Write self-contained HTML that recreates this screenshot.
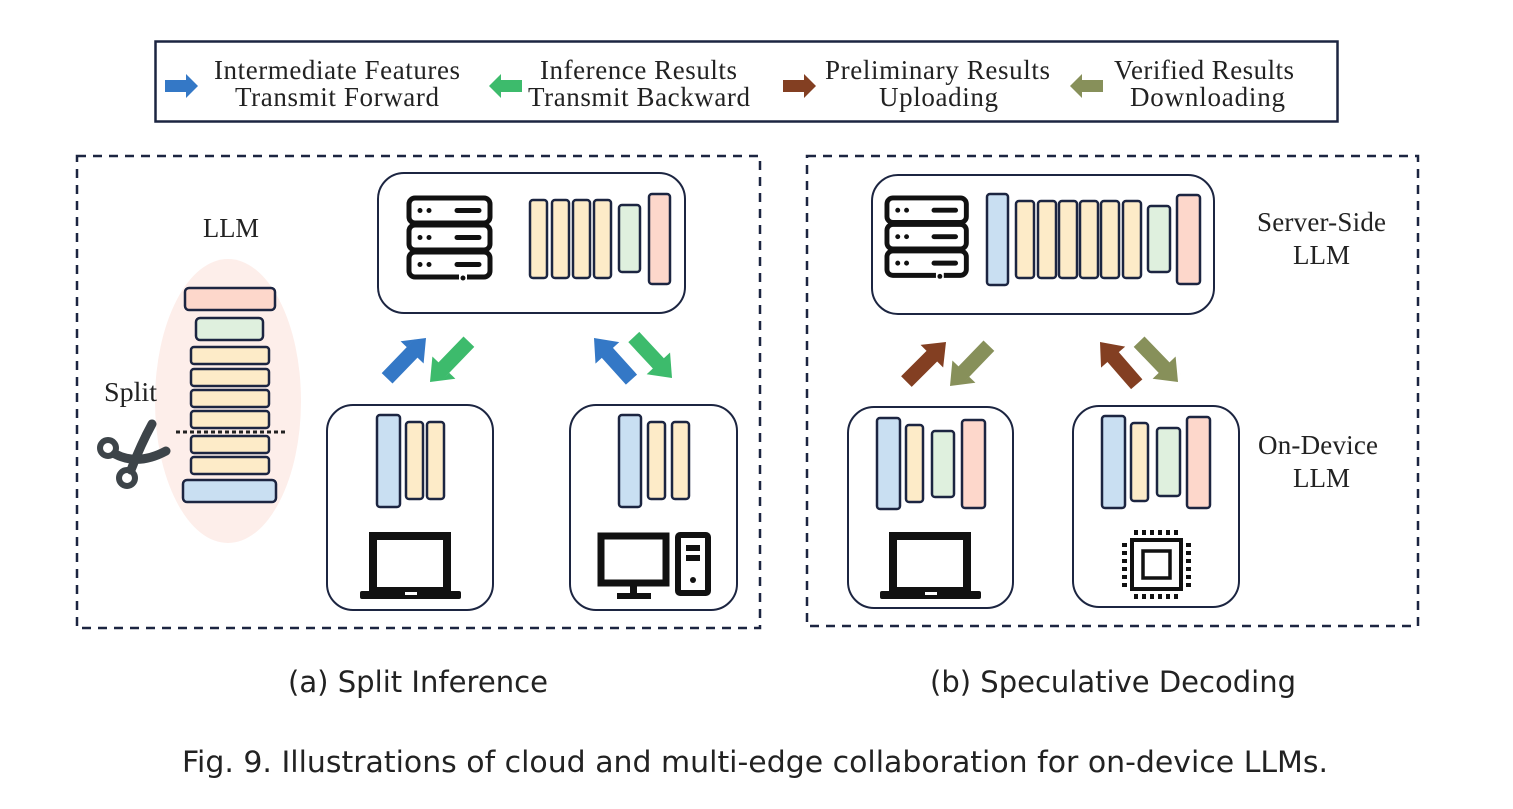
<!DOCTYPE html>
<html><head><meta charset="utf-8"><style>html,body{margin:0;padding:0;background:#fff}svg{display:block}</style></head>
<body>
<svg width="1513" height="809" viewBox="0 0 1513 809" xmlns="http://www.w3.org/2000/svg">
<defs>
<g id="srv">
  <rect x="2" y="2" width="81" height="25" rx="6" fill="#fff" stroke="#111" stroke-width="5"/>
  <rect x="2" y="29" width="81" height="25" rx="6" fill="#fff" stroke="#111" stroke-width="5"/>
  <rect x="2" y="56" width="81" height="25" rx="6" fill="#fff" stroke="#111" stroke-width="5"/>
  <rect x="52" y="78" width="8" height="8" fill="#fff"/>
  <circle cx="56" cy="82" r="2.5" fill="#111"/>
  <g fill="#111"><circle cx="13" cy="14.5" r="2.5"/><circle cx="22" cy="14.5" r="2.5"/><circle cx="13" cy="41.5" r="2.5"/><circle cx="22" cy="41.5" r="2.5"/><circle cx="13" cy="68.5" r="2.5"/><circle cx="22" cy="68.5" r="2.5"/></g>
  <g stroke="#111" stroke-width="5" stroke-linecap="round"><line x1="50" y1="14.5" x2="72" y2="14.5"/><line x1="50" y1="41.5" x2="72" y2="41.5"/><line x1="50" y1="68.5" x2="72" y2="68.5"/></g>
</g>
<g id="lap">
  <rect x="13" y="4" width="74" height="55" fill="#fff" stroke="#111" stroke-width="8"/>
  <rect x="0" y="59" width="101" height="8" rx="2" fill="#111"/>
  <rect x="45" y="60" width="12" height="3" fill="#fff"/>
</g>
<polygon id="arr" points="0,-7.5 -20,-7.5 -20,-16 0,0 -20,16 -20,7.5 -56,7.5 -56,-7.5"/>
<polygon id="larr" points="0,-6 -12,-6 -12,-12 0,0 -12,12 -12,6 -33,6 -33,-6"/>
</defs>

<!-- Legend -->
<rect x="155.5" y="41.5" width="1182" height="80" fill="#fff" stroke="#1c2541" stroke-width="2.5"/>
<g font-family="Liberation Serif, serif" font-size="27" fill="#222" lengthAdjust="spacingAndGlyphs">
  <text x="214" y="79" textLength="246">Intermediate Features</text><text x="235" y="106" textLength="204">Transmit Forward</text>
  <text x="540" y="79" textLength="197">Inference Results</text><text x="528" y="106" textLength="222">Transmit Backward</text>
  <text x="825" y="79" textLength="225">Preliminary Results</text><text x="879" y="106" textLength="119">Uploading</text>
  <text x="1114" y="79" textLength="180">Verified Results</text><text x="1130" y="106" textLength="155">Downloading</text>
</g>
<use href="#larr" transform="translate(198,86)" fill="#3478c6"/>
<use href="#larr" transform="translate(489,86) rotate(180)" fill="#3dbb6c"/>
<use href="#larr" transform="translate(816,86)" fill="#833f22"/>
<use href="#larr" transform="translate(1070,86) rotate(180)" fill="#87905a"/>

<!-- Panels -->
<rect x="77" y="156" width="683" height="472" fill="none" stroke="#1c2541" stroke-width="2.5" stroke-dasharray="9,7"/>
<rect x="807" y="156" width="611" height="470" fill="none" stroke="#1c2541" stroke-width="2.5" stroke-dasharray="9,7"/>

<!-- Left LLM stack -->
<ellipse cx="228" cy="401" rx="73" ry="142" fill="#fdeeea"/>
<text x="203" y="237" font-family="Liberation Serif, serif" font-size="27" fill="#222" textLength="56" lengthAdjust="spacingAndGlyphs">LLM</text>
<text x="104" y="401" font-family="Liberation Serif, serif" font-size="27" fill="#222" textLength="53" lengthAdjust="spacingAndGlyphs">Split</text>
<g stroke="#1c2541" stroke-width="2.5">
  <rect x="185" y="288" width="90" height="22" rx="4" fill="#fdd7cb"/>
  <rect x="196" y="318" width="67" height="22" rx="4" fill="#dff0de"/>
  <rect x="191" y="347" width="78" height="17" rx="3" fill="#fdebc8"/>
  <rect x="191" y="369" width="78" height="17" rx="3" fill="#fdebc8"/>
  <rect x="191" y="390" width="78" height="17" rx="3" fill="#fdebc8"/>
  <rect x="191" y="411" width="78" height="17" rx="3" fill="#fdebc8"/>
  <rect x="191" y="436" width="78" height="17" rx="3" fill="#fdebc8"/>
  <rect x="191" y="457" width="78" height="17" rx="3" fill="#fdebc8"/>
  <rect x="183" y="480" width="93" height="22" rx="4" fill="#c9dff2"/>
</g>
<line x1="176" y1="432" x2="288" y2="432" stroke="#222" stroke-width="3" stroke-dasharray="4,3"/>
<!-- scissors -->
<g stroke="#3d4449" fill="none" stroke-linecap="round">
  <circle cx="108" cy="448" r="8" stroke-width="6"/>
  <circle cx="127" cy="478" r="8" stroke-width="6"/>
  <path d="M115 454 Q138 466 166 451" stroke-width="9"/>
  <path d="M131 470 Q141 444 152 424" stroke-width="9"/>
</g>

<!-- Left server box -->
<rect x="378" y="173" width="307" height="140" rx="26" fill="#fff" stroke="#1c2541" stroke-width="2"/>
<use href="#srv" transform="translate(407,196)"/>
<g stroke="#1c2541" stroke-width="2.5">
  <rect x="530" y="200" width="17" height="78" rx="3" fill="#fdebc8"/>
  <rect x="552" y="200" width="17" height="78" rx="3" fill="#fdebc8"/>
  <rect x="573" y="200" width="17" height="78" rx="3" fill="#fdebc8"/>
  <rect x="594" y="200" width="17" height="78" rx="3" fill="#fdebc8"/>
  <rect x="619" y="205" width="21" height="67" rx="3" fill="#dff0de"/>
  <rect x="649" y="194" width="21" height="90" rx="3" fill="#fdd7cb"/>
</g>
<use href="#arr" transform="translate(426,338) rotate(-46)" fill="#3478c6"/>
<use href="#arr" transform="translate(430,382) rotate(134)" fill="#3dbb6c"/>
<use href="#arr" transform="translate(594,338) rotate(-132)" fill="#3478c6"/>
<use href="#arr" transform="translate(672,378) rotate(47)" fill="#3dbb6c"/>

<!-- Laptop device box -->
<rect x="327" y="405" width="166" height="205" rx="26" fill="#fff" stroke="#1c2541" stroke-width="2"/>
<g stroke="#1c2541" stroke-width="2.5">
  <rect x="377" y="415" width="23" height="92" rx="3" fill="#c9dff2"/>
  <rect x="406" y="422" width="17" height="77" rx="3" fill="#fdebc8"/>
  <rect x="427" y="422" width="17" height="77" rx="3" fill="#fdebc8"/>
</g>
<use href="#lap" transform="translate(360,532)"/>

<!-- Desktop device box -->
<rect x="570" y="405" width="167" height="205" rx="26" fill="#fff" stroke="#1c2541" stroke-width="2"/>
<g stroke="#1c2541" stroke-width="2.5">
  <rect x="619" y="415" width="22" height="92" rx="3" fill="#c9dff2"/>
  <rect x="648" y="422" width="17" height="77" rx="3" fill="#fdebc8"/>
  <rect x="672" y="422" width="17" height="77" rx="3" fill="#fdebc8"/>
</g>
<rect x="601" y="536" width="65" height="47" fill="#fff" stroke="#111" stroke-width="7"/>
<rect x="630" y="586" width="7" height="9" fill="#111"/>
<rect x="617" y="593" width="34" height="6" fill="#111"/>
<rect x="678" y="535" width="30" height="58" rx="2" fill="#fff" stroke="#111" stroke-width="6"/>
<rect x="686" y="545" width="14" height="6" fill="#111"/>
<rect x="686" y="555" width="14" height="6" fill="#111"/>
<circle cx="693" cy="580" r="3" fill="#111"/>

<!-- Right server box -->
<rect x="872" y="175" width="342" height="139" rx="26" fill="#fff" stroke="#1c2541" stroke-width="2"/>
<use href="#srv" transform="translate(885,196) scale(0.98)"/>
<g stroke="#1c2541" stroke-width="2.5">
  <rect x="987" y="194" width="21" height="91" rx="3" fill="#c9dff2"/>
  <rect x="1016" y="201" width="18" height="77" rx="3" fill="#fdebc8"/>
  <rect x="1038" y="201" width="18" height="77" rx="3" fill="#fdebc8"/>
  <rect x="1059" y="201" width="18" height="77" rx="3" fill="#fdebc8"/>
  <rect x="1080" y="201" width="18" height="77" rx="3" fill="#fdebc8"/>
  <rect x="1101" y="201" width="18" height="77" rx="3" fill="#fdebc8"/>
  <rect x="1123" y="201" width="18" height="77" rx="3" fill="#fdebc8"/>
  <rect x="1148" y="206" width="22" height="66" rx="3" fill="#dff0de"/>
  <rect x="1177" y="195" width="23" height="89" rx="3" fill="#fdd7cb"/>
</g>
<g font-family="Liberation Serif, serif" font-size="27" fill="#222" lengthAdjust="spacingAndGlyphs">
  <text x="1257" y="231" textLength="129">Server-Side</text><text x="1293" y="264" textLength="57">LLM</text>
  <text x="1258" y="454" textLength="120">On-Device</text><text x="1293" y="487" textLength="57">LLM</text>
</g>
<use href="#arr" transform="translate(946,342) rotate(-45)" fill="#833f22"/>
<use href="#arr" transform="translate(950,386) rotate(134)" fill="#87905a"/>
<use href="#arr" transform="translate(1100,342) rotate(-131)" fill="#833f22"/>
<use href="#arr" transform="translate(1178,382) rotate(46)" fill="#87905a"/>

<!-- Right laptop box -->
<rect x="848" y="407" width="165" height="201" rx="26" fill="#fff" stroke="#1c2541" stroke-width="2"/>
<g stroke="#1c2541" stroke-width="2.5">
  <rect x="877" y="418" width="23" height="91" rx="3" fill="#c9dff2"/>
  <rect x="906" y="425" width="17" height="77" rx="3" fill="#fdebc8"/>
  <rect x="932" y="431" width="22" height="66" rx="3" fill="#dff0de"/>
  <rect x="962" y="420" width="23" height="88" rx="3" fill="#fdd7cb"/>
</g>
<use href="#lap" transform="translate(880,532)"/>

<!-- Chip box -->
<rect x="1073" y="406" width="166" height="201" rx="26" fill="#fff" stroke="#1c2541" stroke-width="2"/>
<g stroke="#1c2541" stroke-width="2.5">
  <rect x="1102" y="416" width="23" height="92" rx="3" fill="#c9dff2"/>
  <rect x="1131" y="423" width="17" height="78" rx="3" fill="#fdebc8"/>
  <rect x="1157" y="428" width="23" height="68" rx="3" fill="#dff0de"/>
  <rect x="1187" y="417" width="23" height="91" rx="3" fill="#fdd7cb"/>
</g>
<rect x="1132" y="540" width="49" height="49" fill="#fff" stroke="#111" stroke-width="4"/>
<rect x="1143" y="551" width="27" height="27" fill="#fff" stroke="#111" stroke-width="3.5"/>
<g fill="#111">
  <rect x="1134" y="530" width="4" height="5"/><rect x="1142" y="530" width="4" height="5"/><rect x="1150" y="530" width="4" height="5"/><rect x="1158" y="530" width="4" height="5"/><rect x="1166" y="530" width="4" height="5"/><rect x="1174" y="530" width="4" height="5"/>
  <rect x="1134" y="594" width="4" height="5"/><rect x="1142" y="594" width="4" height="5"/><rect x="1150" y="594" width="4" height="5"/><rect x="1158" y="594" width="4" height="5"/><rect x="1166" y="594" width="4" height="5"/><rect x="1174" y="594" width="4" height="5"/>
  <rect x="1122" y="543" width="5" height="4"/><rect x="1122" y="551" width="5" height="4"/><rect x="1122" y="559" width="5" height="4"/><rect x="1122" y="567" width="5" height="4"/><rect x="1122" y="575" width="5" height="4"/><rect x="1122" y="583" width="5" height="4"/>
  <rect x="1186" y="543" width="5" height="4"/><rect x="1186" y="551" width="5" height="4"/><rect x="1186" y="559" width="5" height="4"/><rect x="1186" y="567" width="5" height="4"/><rect x="1186" y="575" width="5" height="4"/><rect x="1186" y="583" width="5" height="4"/>
</g>

<!-- Captions -->
<g font-family="DejaVu Sans, Liberation Sans, sans-serif" fill="#222">
  <text x="288" y="692" font-size="29" textLength="260" lengthAdjust="spacingAndGlyphs">(a) Split Inference</text>
  <text x="930" y="692" font-size="29" textLength="366" lengthAdjust="spacingAndGlyphs">(b) Speculative Decoding</text>
  <text x="182" y="772" font-size="29" textLength="1146" lengthAdjust="spacingAndGlyphs">Fig. 9.  Illustrations of cloud and multi-edge collaboration for on-device LLMs.</text>
</g>
</svg>
</body></html>
